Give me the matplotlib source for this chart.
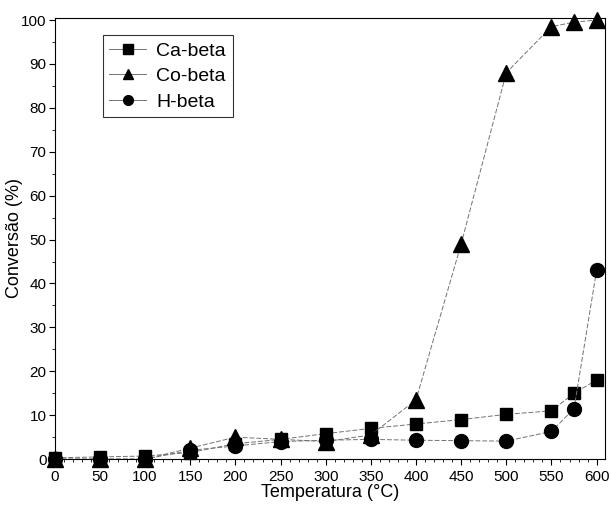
import matplotlib
matplotlib.use("Agg")
import matplotlib.pyplot as plt
from matplotlib.ticker import MultipleLocator

plt.rcParams['font.family'] = ['Liberation Sans', 'DejaVu Sans']

temp = [0, 50, 100, 150, 200, 250, 300, 350, 400, 450, 500, 550, 575, 600]
ca_beta = [0.3, 0.5, 0.7, 1.5, 3.5, 4.5, 5.8, 7.0, 8.0, 9.0, 10.2, 11.0, 15.0, 18.0]
co_beta = [0.0, 0.0, 0.0, 2.5, 5.0, 4.5, 4.0, 5.5, 13.5, 49.0, 88.0, 98.5, 99.5, 100.0]
h_beta = [0.0, 0.0, 0.0, 2.0, 3.0, 4.0, 4.3, 4.5, 4.3, 4.2, 4.1, 6.3, 11.5, 43.0]

fig = plt.figure(figsize=(6.09, 5.09), dpi=100)
ax = fig.add_axes([0.090, 0.098, 0.903, 0.867])

line_kw = dict(color='0.45', lw=0.7, ls=(0, (5, 2)), clip_on=False,
               mfc='black', mec='black')
ax.plot(temp, ca_beta, marker='s', ms=9, label='Ca-beta', **line_kw)
ax.plot(temp, co_beta, marker='^', ms=11, label='Co-beta', **line_kw)
ax.plot(temp, h_beta, marker='o', ms=10, label='H-beta', **line_kw)

ax.set_xlim(0, 609)
ax.set_ylim(0, 100.5)
ax.xaxis.set_major_locator(MultipleLocator(50))
ax.xaxis.set_minor_locator(MultipleLocator(10))
ax.yaxis.set_major_locator(MultipleLocator(10))
ax.yaxis.set_minor_locator(MultipleLocator(5))
ax.tick_params(which='both', direction='out', labelsize=11)
ax.tick_params(axis='y', which='major', pad=2)
ax.tick_params(which='major', length=4)
ax.tick_params(which='minor', length=2)

ax.set_xlabel('Temperatura (°C)', fontsize=13, labelpad=0)
ax.set_ylabel('Conversão (%)', fontsize=13)
ax.yaxis.set_label_coords(-0.057, 0.5)

leg = ax.legend(loc='upper left', bbox_to_anchor=(0.087, 0.96), fontsize=14,
                frameon=True, fancybox=False, edgecolor='black', handlelength=1.9,
                handletextpad=0.5, markerscale=0.8, borderpad=0.35,
                labelspacing=0.4, borderaxespad=0)
leg.get_frame().set_linewidth(0.8)
for l in leg.get_lines():
    l.set_linestyle('-')
for h in leg.legend_handles:
    h.set_markersize(7)

fig.savefig('out.png', dpi=100)
